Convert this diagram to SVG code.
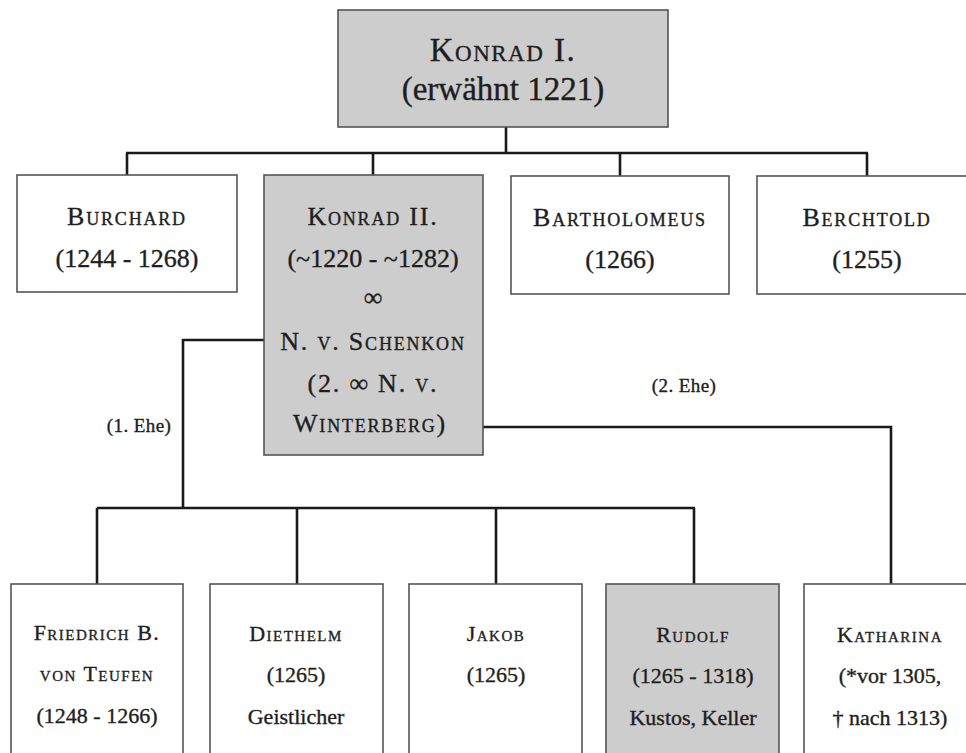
<svg xmlns="http://www.w3.org/2000/svg" width="966" height="753" viewBox="0 0 966 753" font-family="'Liberation Serif', 'DejaVu Serif', serif">
  <style>
    .box { fill: #ffffff; stroke: #555555; stroke-width: 1.6; }
    .box.hl { fill: #cdcdcd; }
    .lnk { fill: none; stroke: #1a1a1a; stroke-width: 2.6; stroke-linejoin: miter; }
    text { font-family: 'Liberation Serif', 'DejaVu Serif', serif; fill: #1e1e1e; stroke: #1e1e1e; stroke-width: 0.35; text-anchor: middle; }
    .sc { font-variant: small-caps; }
    .t1 { font-size: 33px; }
    .t1.sc { letter-spacing: 1.5px; }
    .t2 { font-size: 26px; }
    .t2.sc { letter-spacing: 1.8px; }
    .t3 { font-size: 22px; }
    .t3.sc { letter-spacing: 1.5px; }
    .lbl { font-size: 19px; letter-spacing: 0.4px; }
  </style>

  <rect width="966" height="753" fill="#ffffff"/>

  <!-- connectors -->
  <g id="connectors">
    <path class="lnk" d="M506 127 V153"/>
    <path class="lnk" d="M126 153 H868"/>
    <path class="lnk" d="M127 153 V175 M373 153 V175 M620 153 V176 M867 153 V176"/>
    <path class="lnk" d="M278 340 H183 V508"/>
    <path class="lnk" d="M97 508 H695"/>
    <path class="lnk" d="M97 508 V584 M297 508 V584 M496 508 V584 M694 508 V584"/>
    <path class="lnk" d="M468 427 H891 V584"/>
  </g>

  <!-- generation 1 -->
  <g id="konrad1">
    <rect class="box hl" x="338" y="10" width="330" height="117"/>
    <text class="t1 sc" x="503" y="61">Konrad I.</text>
    <text class="t1" x="503" y="100">(erwähnt 1221)</text>
  </g>

  <!-- generation 2 -->
  <g id="burchard">
    <rect class="box" x="17" y="175" width="220" height="117"/>
    <text class="t2 sc" x="127" y="225">Burchard</text>
    <text class="t2" x="127" y="267">(1244 - 1268)</text>
  </g>

  <g id="konrad2">
    <rect class="box hl" x="264" y="175" width="219" height="280"/>
    <text class="t2 sc" x="373" y="225">Konrad II.</text>
    <text class="t2" x="373" y="267">(~1220 - ~1282)</text>
    <text class="t2" x="373" y="306">∞</text>
    <text class="t2 sc" x="373" y="350">N. v. Schenkon</text>
    <text class="t2 sc" x="373" y="392">(2. ∞ N. v.</text>
    <text class="t2 sc" x="370" y="432">Winterberg)</text>
  </g>

  <g id="bartholomeus">
    <rect class="box" x="511" y="176" width="218" height="118"/>
    <text class="t2 sc" x="620" y="226">Bartholomeus</text>
    <text class="t2" x="620" y="268">(1266)</text>
  </g>

  <g id="berchtold">
    <rect class="box" x="757" y="176" width="230" height="118"/>
    <text class="t2 sc" x="867" y="226">Berchtold</text>
    <text class="t2" x="867" y="268">(1255)</text>
  </g>

  <!-- marriage labels -->
  <text class="lbl" x="139" y="432">(1. Ehe)</text>
  <text class="lbl" x="684" y="392">(2. Ehe)</text>

  <!-- generation 3 -->
  <g id="friedrich">
    <rect class="box" x="11" y="584" width="172" height="190"/>
    <text class="t3 sc" x="97" y="640">Friedrich B.</text>
    <text class="t3 sc" x="97" y="681">von Teufen</text>
    <text class="t3" x="97" y="723">(1248 - 1266)</text>
  </g>

  <g id="diethelm">
    <rect class="box" x="210" y="584" width="173" height="190"/>
    <text class="t3 sc" x="296" y="641">Diethelm</text>
    <text class="t3" x="296" y="682">(1265)</text>
    <text class="t3" x="296" y="724">Geistlicher</text>
  </g>

  <g id="jakob">
    <rect class="box" x="409" y="584" width="173" height="190"/>
    <text class="t3 sc" x="496" y="641">Jakob</text>
    <text class="t3" x="496" y="682">(1265)</text>
  </g>

  <g id="rudolf">
    <rect class="box hl" x="606" y="584" width="173" height="190"/>
    <text class="t3 sc" x="693" y="642">Rudolf</text>
    <text class="t3" x="693" y="683">(1265 - 1318)</text>
    <text class="t3" x="693" y="725">Kustos, Keller</text>
  </g>

  <g id="katharina">
    <rect class="box" x="804" y="584" width="190" height="190"/>
    <text class="t3 sc" x="890" y="642">Katharina</text>
    <text class="t3" x="890" y="683">(*vor 1305,</text>
    <text class="t3" x="890" y="725">† nach 1313)</text>
  </g>
</svg>
